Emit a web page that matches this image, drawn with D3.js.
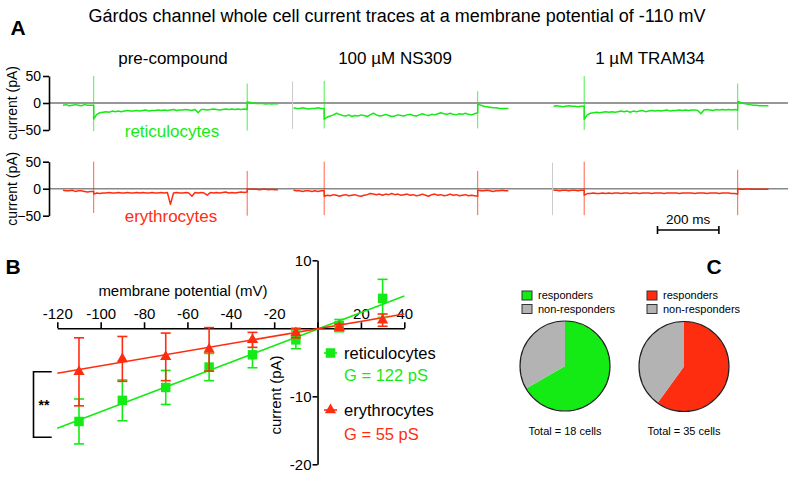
<!DOCTYPE html>
<html><head><meta charset="utf-8">
<script src="https://cdn.jsdelivr.net/npm/d3@7"></script>
<style>body{margin:0;background:#fff}svg{display:block;font-family:"Liberation Sans",Arial,sans-serif}</style>
</head><body><svg id="c" width="793" height="477"></svg>
<script>
// ---------------- DATA ----------------
const figTitle = "Gárdos channel whole cell current traces at a membrane potential of -110 mV";
const conditions = ["pre-compound", "100 µM NS309", "1 µM TRAM34"];
const cellTypes = ["reticulocytes", "erythrocytes"];
const traceYTicks = [50, 0, -50];

// Panel A traces (pA). pre: 0-100 ms, step: 100-600 ms, post: 600-700 ms
const retPre = [
  [-4,-3,-5,-4,-3,-4,-5,-3,-4,-4,-4],
  [-9,-10,-10,-9,-10,-11,-10,-10,-9,-10,-10],
  [-6,-5,-6,-7,-6,-5,-6,-6,-7,-6,-6]
];
const retStep = [
  [-30,-21,-18,-17,-16,-17,-15,-16,-15,-16,-15,-14,-15,-15,-14,-15,-14,-13,-15,-14,-14,-13,-14,-13,-14,-13,-12,-14,-13,-13,-12,-13,-14,-12,-18,-12,-12,-13,-12,-11,-12,-13,-12,-11,-12,-11,-12,-11,-12,-11,-12],
  [-30,-26,-24,-22,-19,-21,-23,-24,-22,-25,-23,-24,-22,-23,-25,-22,-19,-22,-24,-23,-21,-23,-25,-24,-22,-23,-24,-22,-21,-23,-24,-22,-20,-22,-23,-21,-22,-20,-18,-20,-21,-19,-21,-22,-20,-21,-19,-21,-22,-20,-18],
  [-30,-22,-19,-18,-17,-18,-17,-16,-17,-16,-17,-16,-15,-16,-15,-17,-15,-16,-15,-14,-16,-15,-14,-15,-14,-15,-14,-13,-15,-14,-14,-13,-14,-13,-14,-13,-13,-14,-20,-13,-12,-13,-14,-12,-13,-12,-13,-12,-13,-12,-13]
];
const retPost = [
  [2,1,0,-1,-1,-1,-2,-1,-2,-1,-2],
  [-2,-4,-6,-7,-8,-9,-9,-10,-10,-10,-10],
  [3,1,-1,-2,-3,-4,-4,-5,-5,-5,-5]
];
// capacitive transients: [onset up, onset down, offset up, offset down]
const retSpikes = [[50,-52,36,-51],[41,-47,22,-47],[50,-50,36,-50]];

const eryPre = [
  [-3,-4,-4,-3,-5,-4,-4,-5,-6,-5,-5],
  [-3,-4,-4,-5,-4,-4,-5,-4,-5,-4,-4],
  [-3,-3,-4,-3,-3,-4,-3,-3,-4,-3,-3]
];
const eryStep = [
  [-10,-8,-9,-8,-8,-7,-8,-8,-7,-8,-8,-7,-8,-8,-7,-8,-7,-8,-8,-7,-8,-8,-7,-8,-7,-29,-8,-7,-8,-8,-7,-8,-14,-7,-8,-7,-8,-12,-7,-8,-7,-8,-7,-6,-8,-7,-8,-7,-6,-7,-6],
  [-14,-12,-13,-11,-12,-14,-12,-11,-13,-12,-11,-13,-14,-12,-11,-9,-10,-11,-10,-12,-10,-11,-9,-11,-10,-12,-11,-10,-12,-11,-13,-12,-10,-12,-14,-11,-10,-12,-11,-13,-12,-10,-12,-11,-13,-12,-11,-13,-12,-13,-14],
  [-12,-9,-9,-8,-9,-9,-8,-9,-8,-9,-8,-8,-9,-8,-8,-9,-8,-8,-9,-8,-8,-8,-9,-8,-8,-8,-9,-8,-8,-8,-8,-9,-8,-8,-8,-8,-9,-8,-8,-8,-9,-8,-8,-8,-9,-8,-8,-8,-9,-9,-10]
];
const eryPost = [
  [0,-1,-1,-1,-2,-1,-1,-2,-1,-2,-2],
  [-3,-4,-4,-3,-4,-5,-4,-4,-3,-4,-4],
  [0,-1,-1,0,-1,-1,-1,-1,-1,-1,-1]
];
const erySpikes = [[50,-45,33,-50],[50,-49,33,-49],[50,-49,35,-49]];
// faint start artefacts [row, column, up, down]
const artefacts = [[0,1,40,-48],[1,2,48,-49]];
const scaleBarMs = 200;

// Panel B: I-V relationship
const ivVoltage = [-110,-90,-70,-50,-30,-10,10,30];
const retCurrent = [-13.7,-10.6,-8.7,-5.7,-3.9,-1.7,0.4,4.4];
const retSEM     = [3.3,3.0,2.5,2.0,1.9,1.3,0.9,2.8];
const eryCurrent = [-6.4,-4.5,-4.2,-3.1,-1.7,-0.7,0.15,1.2];
const erySEM     = [5.0,3.3,3.5,3.2,1.1,0.7,0.45,0.9];
const fitVoltage = [-120, 40];
const retFit = [-14.7, 4.75];
const eryFit = [-6.6, 2.1];
const ivXTicks = [-120,-100,-80,-60,-40,-20,0,20,40];
const ivYTicks = [10,0,-10,-20];
const conductances = ["G = 122 pS", "G = 55 pS"];

// Panel C: responders
const pieLabels = ["responders", "non-responders"];
const retPie = [12, 6];
const eryPie = [21, 14];
const pieTotals = ["Total = 18 cells", "Total = 35 cells"];

// ---------------- DRAWING ----------------
const GREEN = "#14ea14", RED = "#ff2d0f", GRAY = "#b3b3b3";
const svg = d3.select("#c");
const FONT = '"Liberation Sans", Arial, sans-serif';

svg.append("text").attr("x", 397).attr("y", 22).attr("text-anchor","middle")
  .attr("font-size", 18).text(figTitle);
svg.append("text").attr("x", 18).attr("y", 35).attr("text-anchor","middle")
  .attr("font-size", 21).attr("font-weight","bold").text("A");
svg.append("text").attr("x", 13).attr("y", 274).attr("text-anchor","middle")
  .attr("font-size", 21).attr("font-weight","bold").text("B");
svg.append("text").attr("x", 714).attr("y", 274).attr("text-anchor","middle")
  .attr("font-size", 21).attr("font-weight","bold").text("C");

// ---- Panel A ----
const colX0 = [63, 293.5, 553.5];
const colCenters = [173, 395, 650];
const msPx = 0.307;
const rowRanges = [[130, 76], [215.7, 161.7]];
const rowZeroColor = ["#333", "#888"];
const rowZeroWidth = [1, 1.6];
const rowColor = [GREEN, RED];

conditions.forEach((c, i) => {
  svg.append("text").attr("x", colCenters[i]).attr("y", 64).attr("text-anchor","middle")
    .attr("font-size", 17).text(c);
});

const traceSets = [
  {pre: retPre, step: retStep, post: retPost, spikes: retSpikes},
  {pre: eryPre, step: eryStep, post: eryPost, spikes: erySpikes}
];

function tracePoints(pre, step, post) {
  const pts = [];
  pre.forEach((v, i) => pts.push([i * 100 / (pre.length - 1), v]));
  step.forEach((v, i) => pts.push([100 + i * 500 / (step.length - 1), v]));
  post.forEach((v, i) => pts.push([600 + i * 100 / (post.length - 1), v]));
  return pts;
}

rowRanges.forEach((rr, r) => {
  const y = d3.scaleLinear().domain([-50, 50]).range(rr);
  svg.append("line").attr("x1", 49).attr("x2", 788).attr("y1", y(0)).attr("y2", y(0))
    .attr("stroke", rowZeroColor[r]).attr("stroke-width", rowZeroWidth[r]);
  const ax = svg.append("g").attr("transform", `translate(49,0)`)
    .call(d3.axisLeft(y).tickValues(traceYTicks).tickSize(6).tickSizeOuter(0).tickPadding(2));
  ax.selectAll("text").attr("font-size", 14).attr("font-family", FONT).attr("fill","#000");
  ax.selectAll("line,path").attr("stroke", "#000").attr("stroke-width", 1.6);
  svg.append("text").attr("transform", `translate(12,${y(0)}) rotate(-90)`)
    .attr("text-anchor","middle").attr("font-size", 14).attr("dy","0.35em").text("current (pA)");

  const set = traceSets[r];
  conditions.forEach((c, i) => {
    const t = d3.scaleLinear().domain([0, 700]).range([colX0[i], colX0[i] + 700 * msPx]);
    const pts = tracePoints(set.pre[i], set.step[i], set.post[i]);
    svg.append("path").attr("d", d3.line().x(d => t(d[0])).y(d => y(d[1]))(pts))
      .attr("fill","none").attr("stroke", rowColor[r]).attr("stroke-width", 1.5)
      .attr("stroke-linejoin","round");
    const s = set.spikes[i];
    [[100, s[0], s[1]], [600, s[2], s[3]]].forEach(sp => {
      svg.append("line").attr("x1", t(sp[0])).attr("x2", t(sp[0]))
        .attr("y1", y(sp[1])).attr("y2", y(sp[2]))
        .attr("stroke", rowColor[r]).attr("stroke-width", 1).attr("opacity", 0.75);
    });
  });
  artefacts.filter(a => a[0] === r).forEach(a => {
    const t = d3.scaleLinear().domain([0, 700]).range([colX0[a[1]], colX0[a[1]] + 700 * msPx]);
    svg.append("line").attr("x1", t(0) - 1).attr("x2", t(0) - 1).attr("y1", y(a[2])).attr("y2", y(a[3]))
      .attr("stroke", "#ccc").attr("stroke-width", 1);
  });
});
svg.append("text").attr("x", 172).attr("y", 137).attr("text-anchor","middle")
  .attr("font-size", 17).attr("fill", GREEN).text(cellTypes[0]);
svg.append("text").attr("x", 171).attr("y", 222).attr("text-anchor","middle")
  .attr("font-size", 17).attr("fill", RED).text(cellTypes[1]);
{
  const t = d3.scaleLinear().domain([0, 700]).range([657.5, 657.5 + 700 * msPx]);
  const xa = t(0), xb = t(scaleBarMs), yb = 230;
  const g = svg.append("g").attr("stroke", "#000").attr("stroke-width", 1.6);
  g.append("line").attr("x1", xa).attr("x2", xb).attr("y1", yb).attr("y2", yb);
  g.append("line").attr("x1", xa).attr("x2", xa).attr("y1", yb - 4).attr("y2", yb + 4);
  g.append("line").attr("x1", xb).attr("x2", xb).attr("y1", yb - 4).attr("y2", yb + 4);
  svg.append("text").attr("x", (xa + xb) / 2).attr("y", 223.5).attr("text-anchor","middle")
    .attr("font-size", 13.5).text(`${scaleBarMs} ms`);
}

// ---- Panel B ----
const x = d3.scaleLinear().domain([-120, 40]).range([57.3, 404.3]);
const y = d3.scaleLinear().domain([-20, 10]).range([464.3, 260.3]);

const xAx = svg.append("g").attr("transform", `translate(0,${y(0)})`)
  .call(d3.axisTop(x).tickValues(ivXTicks).tickSize(6).tickSizeOuter(0).tickPadding(3)
    .tickFormat(d => d === 0 ? "" : d));
xAx.selectAll("text").attr("font-size", 15).attr("font-family", FONT).attr("fill","#000");
xAx.selectAll("line,path").attr("stroke","#000").attr("stroke-width", 1.6);

const yAx = svg.append("g").attr("transform", `translate(${x(0)},0)`)
  .call(d3.axisLeft(y).tickValues(ivYTicks).tickSize(5).tickSizeOuter(0).tickPadding(1)
    .tickFormat(d => d === 0 ? "" : d));
yAx.selectAll("text").attr("font-size", 15).attr("font-family", FONT).attr("fill","#000");
yAx.selectAll("line,path").attr("stroke","#000").attr("stroke-width", 1.6);

svg.append("text").attr("x", 183).attr("y", 296).attr("text-anchor","middle")
  .attr("font-size", 15).text("membrane potential (mV)");
svg.append("text").attr("transform", `translate(276,395) rotate(-90)`)
  .attr("text-anchor","middle").attr("dy","0.35em").attr("font-size", 15).text("current (pA)");

const ivSeries = [
  {cur: retCurrent, sem: retSEM, fit: retFit, color: GREEN, sym: d3.symbolSquare, size: 90},
  {cur: eryCurrent, sem: erySEM, fit: eryFit, color: RED, sym: d3.symbolTriangle, size: 55}
];
ivSeries.forEach(s => {
  svg.append("path").attr("d", d3.line().x((d, i) => x(fitVoltage[i])).y(d => y(d))(s.fit))
    .attr("stroke", s.color).attr("stroke-width", 1.6).attr("fill","none");
});
ivSeries.forEach(s => {
  const g = svg.append("g").attr("stroke", s.color).attr("stroke-width", 1.6);
  ivVoltage.forEach((v, i) => {
    const cx = x(v), top = y(s.cur[i] + s.sem[i]), bot = y(s.cur[i] - s.sem[i]);
    g.append("line").attr("x1", cx).attr("x2", cx).attr("y1", top).attr("y2", bot);
    g.append("line").attr("x1", cx - 5).attr("x2", cx + 5).attr("y1", top).attr("y2", top);
    g.append("line").attr("x1", cx - 5).attr("x2", cx + 5).attr("y1", bot).attr("y2", bot);
  });
  ivVoltage.forEach((v, i) => {
    svg.append("path").attr("d", d3.symbol(s.sym, s.size)())
      .attr("transform", `translate(${x(v)},${y(s.cur[i])})`).attr("fill", s.color);
  });
});
[[353, 375], [410, 434]].forEach((yy, k) => {
  const s = ivSeries[k];
  svg.append("line").attr("x1", 324).attr("x2", 337).attr("y1", yy[0]).attr("y2", yy[0])
    .attr("stroke", s.color).attr("stroke-width", 1.6);
  svg.append("path").attr("d", d3.symbol(s.sym, s.size)())
    .attr("transform", `translate(330.5,${yy[0]})`).attr("fill", s.color);
  svg.append("text").attr("x", 344).attr("y", yy[0]).attr("dy","0.35em")
    .attr("font-size", 16.5).attr("fill", "#000").text(cellTypes[k]);
  svg.append("text").attr("x", 344).attr("y", yy[1]).attr("dy","0.35em")
    .attr("font-size", 16.5).attr("fill", s.color).text(conductances[k]);
});
svg.append("path").attr("d", "M51.7,371.7H33.5V437.3H51.7").attr("fill","none")
  .attr("stroke","#000").attr("stroke-width", 1.6);
svg.append("text").attr("x", 44).attr("y", 410).attr("text-anchor","middle")
  .attr("font-size", 14).attr("font-weight","bold").text("**");

// ---- Panel C ----
const pies = [
  {vals: retPie, color: GREEN, cx: 565, cy: 366, lx: 522, total: pieTotals[0]},
  {vals: eryPie, color: RED, cx: 684, cy: 366.5, lx: 647, total: pieTotals[1]}
];
const pieGen = d3.pie().sort(null).startAngle(0).endAngle(2 * Math.PI);
const arc = d3.arc().innerRadius(0).outerRadius(45);
pies.forEach(p => {
  const cols = [p.color, GRAY];
  const g = svg.append("g").attr("transform", `translate(${p.cx},${p.cy})`);
  g.selectAll("path").data(pieGen(p.vals)).join("path")
    .attr("d", arc).attr("fill", (d, i) => cols[i]);
  g.append("circle").attr("r", 45).attr("fill","none").attr("stroke","#222").attr("stroke-width", 1.2);
  pieLabels.forEach((lab, i) => {
    svg.append("rect").attr("x", p.lx).attr("y", 291 + i * 13.5).attr("width", 10).attr("height", 9)
      .attr("fill", cols[i]).attr("stroke", "#333").attr("stroke-width", 1);
    svg.append("text").attr("x", p.lx + 16).attr("y", 295.5 + i * 13.5).attr("dy","0.35em")
      .attr("font-size", 11).text(lab);
  });
  svg.append("text").attr("x", p.cx).attr("y", 431).attr("dy","0.35em").attr("text-anchor","middle")
    .attr("font-size", 11).text(p.total);
});
</script></body></html>
